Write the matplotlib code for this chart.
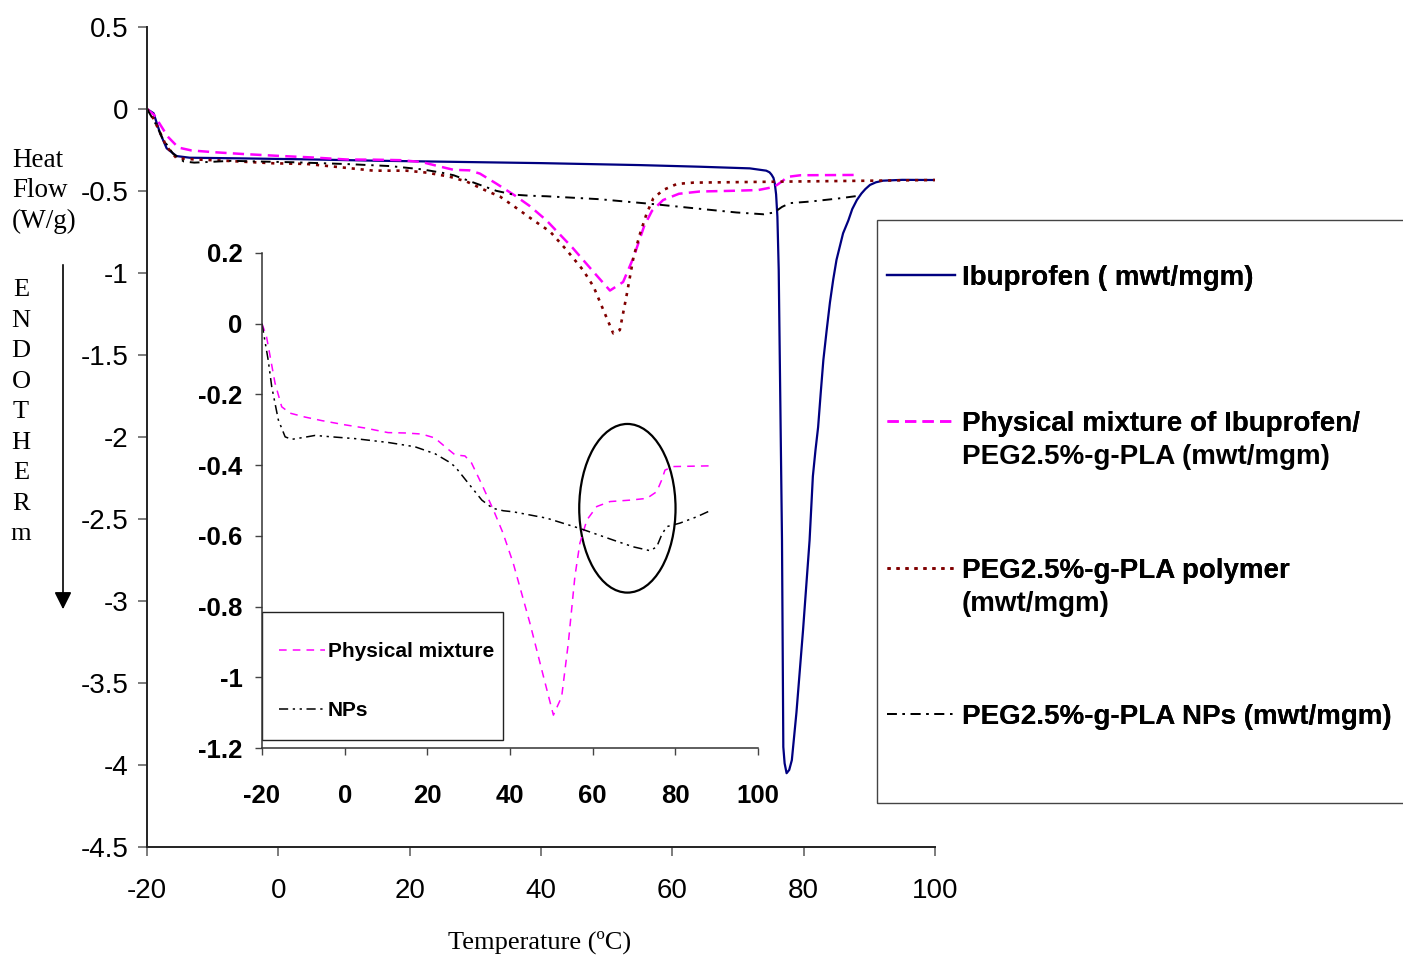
import numpy as np
import matplotlib.pyplot as plt
from matplotlib.patches import Ellipse, Rectangle, FancyArrowPatch
from matplotlib.ticker import FixedLocator, FuncFormatter

plt.rcParams['axes.unicode_minus'] = False

# DSC traces: temperature (C) vs heat flow (W/g)
t_ibu = [-20, -19.0, -18.0, -17.0, -15.5, -13.5, -5.8, 4.3, 14.5, 24.6, 40, 55, 64.2,
         71.8, 74.3, 74.8, 75.1, 75.4, 75.6, 75.8, 76.0, 76.2, 76.7, 76.9, 77.1, 77.4,
         77.8, 78.2, 78.9, 79.9, 80.9, 81.4, 81.8, 82.2, 82.6, 83.0, 83.5, 84.0, 84.5,
         85.0, 86.0, 86.8, 87.4, 88.1, 88.8, 89.4, 90.1, 91.0, 92.1, 95, 100]
hf_ibu = [0.0, -0.026, -0.148, -0.240, -0.287, -0.297, -0.301, -0.307, -0.315, -0.321,
          -0.330, -0.342, -0.352, -0.362, -0.376, -0.386, -0.400, -0.420, -0.453, -0.52,
          -0.657, -0.98, -2.63, -3.89, -3.99, -4.05, -4.03, -3.97, -3.68, -3.18, -2.63,
          -2.24, -2.08, -1.94, -1.73, -1.53, -1.35, -1.18, -1.04, -0.92, -0.758, -0.68,
          -0.61, -0.555, -0.515, -0.488, -0.463, -0.447, -0.437, -0.432, -0.433]

t_pm = [-20, -18.9, -16.85, -15.23, -13.2, -9.6, -5.56, 0.08, 4.9, 10.5, 14.6, 18.6,
        21.8, 24.3, 26.7, 29.1, 30.7, 33.2, 36.0, 38.3, 40.8, 44.8, 48.1, 50.5, 52.5,
        54.1, 55.7, 56.9, 58.6, 61.0, 64.2, 69.0, 73.1, 75.5, 76.7, 77.5, 79.5, 88.4]
hf_pm = [0.0, -0.037, -0.168, -0.235, -0.253, -0.264, -0.274, -0.286, -0.295, -0.308,
         -0.309, -0.312, -0.323, -0.348, -0.371, -0.374, -0.394, -0.455, -0.527, -0.592,
         -0.678, -0.846, -0.998, -1.107, -1.055, -0.904, -0.715, -0.621, -0.555, -0.517,
         -0.503, -0.499, -0.494, -0.475, -0.442, -0.414, -0.404, -0.402]

t_poly = [-20, -19.0, -17.0, -15.5, -13.0, -8.4, -0.77, 4.3, 9.4, 14.5, 19.5, 22.6,
          24.6, 26.1, 28.7, 31.2, 33.8, 36.3, 38.8, 41.4, 43.9, 46.4, 48.0, 49.5, 51.0,
          52.0, 53.0, 54.1, 55.1, 56.1, 57.1, 58.6, 60.7, 63.2, 76.3, 100]
hf_poly = [0.0, -0.06, -0.230, -0.300, -0.307, -0.315, -0.331, -0.335, -0.355, -0.376,
           -0.376, -0.388, -0.402, -0.413, -0.443, -0.490, -0.535, -0.605, -0.677,
           -0.748, -0.860, -0.982, -1.083, -1.226, -1.368, -1.348, -1.144, -0.901,
           -0.758, -0.636, -0.545, -0.494, -0.457, -0.449, -0.443, -0.433]

t_np = [-20, -18.5, -17.65, -16.05, -14.4, -12.8, -9.6, -7.2, -3.1, 2.5, 10.6, 17.0,
        21.9, 25.1, 26.7, 29.9, 33.2, 35.8, 38.4, 40.8, 48.9, 56.9, 65.0, 69.8, 73.9,
        75.5, 76.7, 77.9, 81.1, 85.2, 88.4]
hf_np = [0.0, -0.103, -0.178, -0.272, -0.320, -0.327, -0.321, -0.316, -0.320, -0.325,
         -0.336, -0.348, -0.368, -0.390, -0.404, -0.451, -0.499, -0.522, -0.529, -0.532,
         -0.550, -0.579, -0.612, -0.631, -0.642, -0.631, -0.597, -0.574, -0.564, -0.546,
         -0.529]

labels = ['Ibuprofen ( mwt/mgm)',
          'Physical mixture of Ibuprofen/\nPEG2.5%-g-PLA (mwt/mgm)',
          'PEG2.5%-g-PLA polymer\n(mwt/mgm)',
          'PEG2.5%-g-PLA NPs (mwt/mgm)']
inset_labels = ['Physical mixture', 'NPs']

main_xticks = [-20, 0, 20, 40, 60, 80, 100]
main_yticks = [0.5, 0, -0.5, -1, -1.5, -2, -2.5, -3, -3.5, -4, -4.5]
inset_yticks = [0.2, 0, -0.2, -0.4, -0.6, -0.8, -1, -1.2]

sans = ['Liberation Sans', 'DejaVu Sans']
narrow = ['Liberation Sans Narrow', 'Liberation Sans', 'DejaVu Sans']
serif = ['Liberation Serif', 'DejaVu Serif']

fmt = FuncFormatter(lambda v, p: '%g' % round(v, 3))

fig = plt.figure(figsize=(14.03, 9.55), dpi=100)
W, H = 1403, 955

def fx(px):
    return px / W

def fy(py):
    return 1 - py / H

# main axes
ax = fig.add_axes([fx(147), fy(847), fx(935) - fx(147), fy(27) - fy(847)])
ax.set_facecolor('none')
l_ibu, = ax.plot(t_ibu, hf_ibu, color='#000080', lw=1.6, solid_joinstyle='round')
l_pm, = ax.plot(t_pm, hf_pm, color='#ff00ff', lw=1.8, dashes=(4.5, 2.5))
l_poly, = ax.plot(t_poly, hf_poly, color='#800000', lw=1.9, dashes=(1.2, 2.2))
l_np, = ax.plot(t_np, hf_np, color='black', lw=1.4, dashes=(5, 3, 1.2, 3))

ax.set_xlim(-20, 100)
ax.set_ylim(-4.5, 0.5)
ax.xaxis.set_major_locator(FixedLocator(main_xticks))
ax.yaxis.set_major_locator(FixedLocator(main_yticks))
ax.xaxis.set_major_formatter(fmt)
ax.yaxis.set_major_formatter(fmt)
for s in ['top', 'right']:
    ax.spines[s].set_visible(False)
for s in ['left', 'bottom']:
    ax.spines[s].set_linewidth(1.4)
    ax.spines[s].set_color('#222222')
ax.tick_params(direction='out', length=6.5, width=1.2, color='#666666')
ax.tick_params(axis='x', pad=16)
ax.tick_params(axis='y', pad=7)
for lab in ax.get_xticklabels() + ax.get_yticklabels():
    lab.set_fontfamily(sans)
    lab.set_fontsize(20)

# inset axes with the mixture and nanoparticle traces
ai = fig.add_axes([fx(262), fy(748), fx(758) - fx(262), fy(253) - fy(748)])
ai.set_facecolor('none')
i_pm, = ai.plot(t_pm, hf_pm, color='#ff00ff', lw=1.1, dashes=(5, 4))
i_np, = ai.plot(t_np, hf_np, color='black', lw=1.1, dashes=(6, 3, 1.5, 3, 1.5, 3))
ai.set_xlim(-20, 100)
ai.set_ylim(-1.2, 0.2)
ai.xaxis.set_major_locator(FixedLocator(main_xticks))
ai.yaxis.set_major_locator(FixedLocator(inset_yticks))
ai.xaxis.set_major_formatter(fmt)
ai.yaxis.set_major_formatter(fmt)
for s in ['top', 'right']:
    ai.spines[s].set_visible(False)
for s in ['left', 'bottom']:
    ai.spines[s].set_linewidth(1.1)
    ai.spines[s].set_color('#333333')
ai.tick_params(direction='out', length=5, width=1.0, color='#444444')
ai.tick_params(axis='x', pad=21)
ai.tick_params(axis='y', pad=9)
for lab in ai.get_xticklabels() + ai.get_yticklabels():
    lab.set_fontfamily(narrow)
    lab.set_fontweight('bold')
    lab.set_fontsize(18.5)

ai.add_patch(Ellipse((68.4, -0.522), 23.3, 0.477, fill=False, ec='black', lw=1.6))

# inset legend
ai.add_patch(Rectangle((0, 8 / 495), 241 / 496, 128 / 495, transform=ai.transAxes,
                       fill=False, ec='#222222', lw=1.0))
ai.legend([i_pm, i_np], inset_labels, loc='lower left',
          bbox_to_anchor=(17 / 496, 28 / 495), frameon=False, handlelength=2.2,
          handletextpad=0.15, labelspacing=1.9, borderpad=0, borderaxespad=0,
          prop={'family': narrow, 'weight': 'bold', 'size': 15})

# main legend: boxed panel, one entry per row, wrapped lines continue under the label
fig.patches.append(Rectangle((fx(877), fy(803)), 0.5, fy(220) - fy(803),
                             transform=fig.transFigure, fill=False,
                             ec='#444444', lw=1.0))
row_y = [278, 424, 571, 717]
lprop = {'family': sans, 'weight': 'bold', 'size': 20}
for h, lab, y in zip([l_ibu, l_pm, l_poly, l_np], labels, row_y):
    lines = lab.split('\n')
    leg = fig.legend([h], [lines[0]], loc='center left',
                     bbox_to_anchor=(fx(887), fy(y)), frameon=False,
                     handlelength=2.45, handletextpad=0.25, borderpad=0,
                     borderaxespad=0, prop=lprop)
    fig.add_artist(leg)
    for k, extra in enumerate(lines[1:], start=1):
        fig.text(fx(962), fy(y + 33 * k), extra, ha='left', va='center', **lprop)

# axis captions
fig.text(fx(12), fy(191), 'Heat\nFlow\n(W/g)', ha='left', va='center',
         family=serif, size=19.5, linespacing=1.3)
fig.text(fx(21), fy(412), '\n'.join('ENDOTHERm'), ha='center', va='center',
         family=serif, size=19, linespacing=1.5)
fig.text(fx(540), fy(942), 'Temperature (\u00baC)', ha='center', va='center',
         family=serif, size=19)
fig.add_artist(FancyArrowPatch((fx(63), fy(262)), (fx(63), fy(612)),
                               transform=fig.transFigure, arrowstyle='-|>',
                               mutation_scale=26, color='black', lw=1.2))

fig.savefig('out.png', dpi=100)
